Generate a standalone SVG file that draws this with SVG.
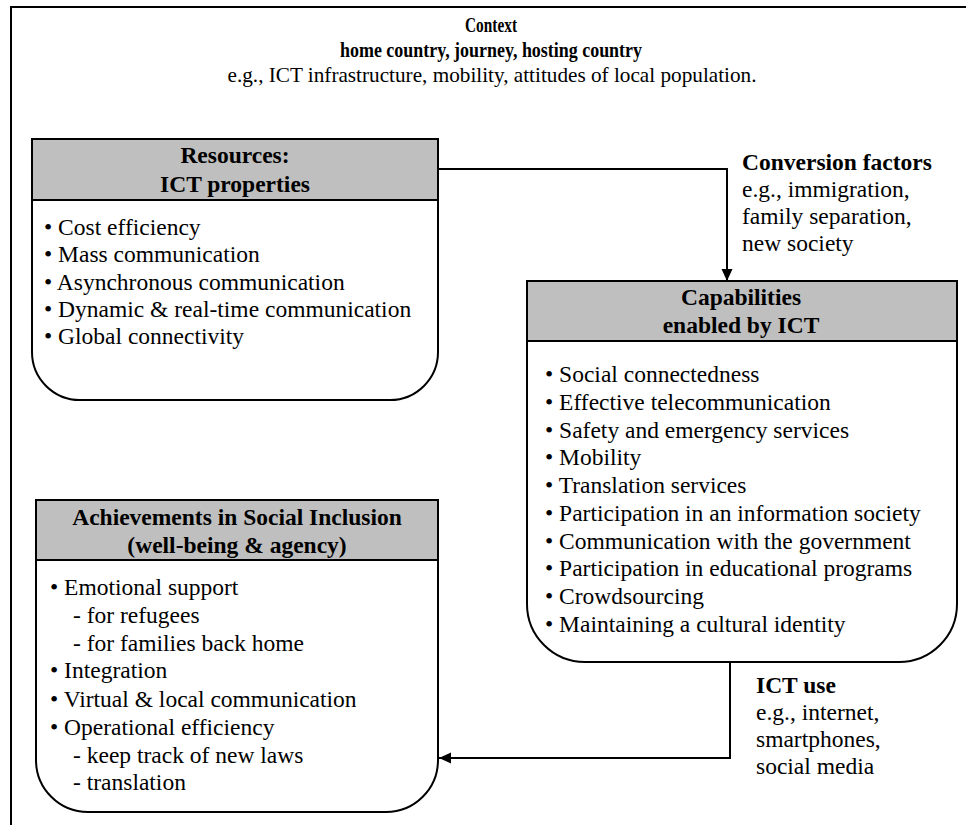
<svg xmlns="http://www.w3.org/2000/svg" width="966" height="825" viewBox="0 0 966 825">
<defs>
<style>
text{font-family:"Liberation Serif","Times New Roman",serif;fill:#000}
.b{font-weight:bold}
.t{font-size:23.5px}
.h{font-size:23.5px;font-weight:bold}
.ctx{font-size:21px}
.box{fill:#fff;stroke:#000;stroke-width:2}
.hdr{fill:#bfbfbf;stroke:#000;stroke-width:2}
.con{fill:none;stroke:#000;stroke-width:2}
</style>
<marker id="ah" markerUnits="userSpaceOnUse" markerWidth="14" markerHeight="14" viewBox="0 0 14 14" refX="13" refY="7" orient="auto">
<path d="M1,1.5 L13,7 L1,12.5 Z" fill="#000"/>
</marker>
</defs>
<rect width="966" height="825" fill="#fff"/>
<g id="frame">
<path d="M11,825 V7 H966" fill="none" stroke="#000" stroke-width="2"/>
</g>
<g id="context">
<text class="ctx b" x="491" y="32" text-anchor="middle" textLength="52" lengthAdjust="spacingAndGlyphs">Context</text>
<text class="ctx b" x="491" y="57" text-anchor="middle" textLength="302" lengthAdjust="spacingAndGlyphs">home country, journey, hosting country</text>
<text class="ctx" x="492" y="82" text-anchor="middle" textLength="529" lengthAdjust="spacingAndGlyphs">e.g., ICT infrastructure, mobility, attitudes of local population.</text>
</g>
<g id="resources">
<path class="box" d="M32,139 H438 V352 A48,48 0 0 1 390,400 H80 A48,48 0 0 1 32,352 Z"/>
<rect class="hdr" x="32" y="139" width="406" height="61"/>
<text class="h" x="235" y="163" text-anchor="middle">Resources:</text>
<text class="h" x="235" y="192" text-anchor="middle">ICT properties</text>
<text class="t" x="44" y="235">• Cost efficiency</text>
<text class="t" x="44" y="262.3">• Mass communication</text>
<text class="t" x="44" y="289.6">• Asynchronous communication</text>
<text class="t" x="44" y="316.9">• Dynamic &amp; real-time communication</text>
<text class="t" x="44" y="344.2">• Global connectivity</text>
</g>
<g id="capabilities">
<path class="box" d="M527,281 H957 V604 A58,58 0 0 1 899,662 H585 A58,58 0 0 1 527,604 Z"/>
<rect class="hdr" x="527" y="281" width="430" height="60"/>
<text class="h" x="741" y="305" text-anchor="middle">Capabilities</text>
<text class="h" x="741" y="333" text-anchor="middle">enabled by ICT</text>
<text class="t" x="545" y="382">• Social connectedness</text>
<text class="t" x="545" y="409.8">• Effective telecommunication</text>
<text class="t" x="545" y="437.5">• Safety and emergency services</text>
<text class="t" x="545" y="465.3">• Mobility</text>
<text class="t" x="545" y="493">• Translation services</text>
<text class="t" x="545" y="520.8">• Participation in an information society</text>
<text class="t" x="545" y="548.6">• Communication with the government</text>
<text class="t" x="545" y="576.3">• Participation in educational programs</text>
<text class="t" x="545" y="604.1">• Crowdsourcing</text>
<text class="t" x="545" y="631.8">• Maintaining a cultural identity</text>
</g>
<g id="achievements">
<path class="box" d="M36,500 H438 V760 A52,52 0 0 1 386,812 H88 A52,52 0 0 1 36,760 Z"/>
<rect class="hdr" x="36" y="500" width="402" height="60"/>
<text class="h" x="237" y="525" text-anchor="middle">Achievements in Social Inclusion</text>
<text class="h" x="237" y="553" text-anchor="middle">(well-being &amp; agency)</text>
<text class="t" x="50" y="595">• Emotional support</text>
<text class="t" x="73" y="623">- for refugees</text>
<text class="t" x="73" y="651">- for families back home</text>
<text class="t" x="50" y="678">• Integration</text>
<text class="t" x="50" y="707">• Virtual &amp; local communication</text>
<text class="t" x="50" y="735">• Operational efficiency</text>
<text class="t" x="73" y="763">- keep track of new laws</text>
<text class="t" x="73" y="790">- translation</text>
</g>
<g id="connectors">
<path class="con" d="M438,169 H727 V281" marker-end="url(#ah)"/>
<path class="con" d="M730,662 V758 H439" marker-end="url(#ah)"/>
</g>
<g id="labels">
<text class="h" x="742" y="170">Conversion factors</text>
<text class="t" x="742" y="197">e.g., immigration,</text>
<text class="t" x="742" y="224">family separation,</text>
<text class="t" x="742" y="251">new society</text>
<text class="h" x="756" y="693">ICT use</text>
<text class="t" x="756" y="720">e.g., internet,</text>
<text class="t" x="756" y="747">smartphones,</text>
<text class="t" x="756" y="774">social media</text>
</g>
</svg>
